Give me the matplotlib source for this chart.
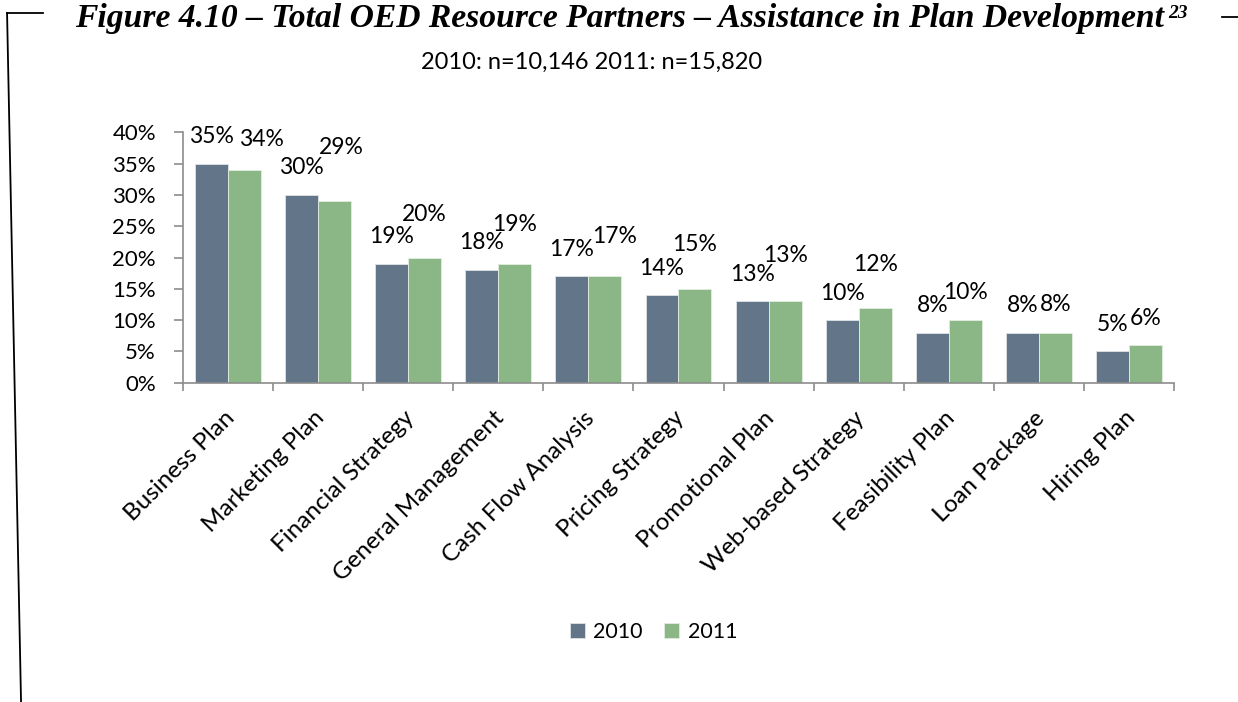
import numpy as np
import matplotlib.pyplot as plt
from matplotlib.lines import Line2D

plt.rcParams['font.family'] = ['Lato', 'DejaVu Sans']

# porcentaje de socios que ayudaron con cada tipo de plan
categorias = ['Business Plan', 'Marketing Plan', 'Financial Strategy',
              'General Management', 'Cash Flow Analysis', 'Pricing Strategy',
              'Promotional Plan', 'Web-based Strategy', 'Feasibility Plan',
              'Loan Package', 'Hiring Plan']
v2010 = [35, 30, 19, 18, 17, 14, 13, 10, 8, 8, 5]
v2011 = [34, 29, 20, 19, 17, 15, 13, 12, 10, 8, 6]
anios = ['2010', '2011']
titulo = 'Figure 4.10 \u2013 Total OED Resource Partners \u2013 Assistance in Plan Development'
subtitulo = '2010: n=10,146 2011: n=15,820'

# desplazamiento (pt) de las etiquetas de 2011 respecto al tope de la barra
desp2011 = [(12, 22), (5, 39), (0, 31), (0, 28), (7, 29), (0, 32),
            (0, 33), (0, 31), (0, 20), (0, 20), (0, 19)]

c2010 = '#637589'
c2011 = '#8bb686'
gris = '#8c8c8c'

fig = plt.figure(figsize=(12.38, 7.02), dpi=100)
ax = fig.add_axes([0.1478, 0.4548, 0.8005, 0.3567])

x = np.arange(len(categorias))
w = 0.366
b1 = ax.bar(x - w/2, v2010, w, color=c2010, edgecolor='#dfe3e8', linewidth=0.6, label=anios[0])
b2 = ax.bar(x + w/2, v2011, w, color=c2011, edgecolor='#e3eee1', linewidth=0.6, label=anios[1])

for i, r in enumerate(b1):
    ax.annotate(f'{v2010[i]}%', (r.get_x() + r.get_width()/2, r.get_height()),
                xytext=(0, 19.5), textcoords='offset points',
                ha='center', va='center', fontsize=16.5)
for i, r in enumerate(b2):
    dx, dy = desp2011[i]
    ax.annotate(f'{v2011[i]}%', (r.get_x() + r.get_width()/2, r.get_height()),
                xytext=(dx, dy), textcoords='offset points',
                ha='center', va='center', fontsize=16.5)

ax.set_xlim(-0.5, len(categorias) - 0.5)
ax.set_ylim(0, 40)
ax.set_yticks(np.arange(0, 41, 5))
ax.set_yticklabels([f'{t}%' for t in range(0, 41, 5)], fontsize=16)
ax.tick_params(axis='y', length=6.5, width=1.2, color=gris, pad=13)

# marcas del eje x entre categorias, etiquetas giradas aparte
ax.set_xticks(np.arange(-0.5, len(categorias), 1))
ax.set_xticklabels([])
ax.tick_params(axis='x', length=6, width=1.2, color=gris)
for i, c in enumerate(categorias):
    ax.annotate(c, (i, 0), xycoords=('data', 'axes fraction'),
                xytext=(2, -23), textcoords='offset points',
                rotation=45, ha='right', va='center', rotation_mode='anchor',
                fontsize=17.5)

for s in ['top', 'right']:
    ax.spines[s].set_visible(False)
for s in ['left', 'bottom']:
    ax.spines[s].set_color(gris)
    ax.spines[s].set_linewidth(1.2)

fig.legend(handles=[b1, b2], labels=anios, loc='center', bbox_to_anchor=(0.528, 0.1),
           ncol=2, frameon=False, fontsize=15.5, handlelength=0.7, handleheight=0.7,
           handletextpad=0.4, columnspacing=1.0)

fig.text(0.478, 0.911, subtitulo, ha='center', va='center', fontsize=17)

t = fig.text(0.0606, 0.962, titulo, ha='left', va='baseline', fontsize=24.2,
             family='Liberation Serif', weight='bold', style='italic')
fig.canvas.draw()
bb = t.get_window_extent()
fig.text(bb.x1 / fig.bbox.width + 0.003, 0.975, '23', ha='left', va='baseline', fontsize=14,
         family='Liberation Serif', weight='bold', style='italic')

# recuadro del documento
fig.add_artist(Line2D([0.0057, 0.0347], [0.9815, 0.9815], color='black', lw=1.3))
fig.add_artist(Line2D([0.0057, 0.017], [0.9815, 0.0], color='black', lw=1.3))
fig.add_artist(Line2D([0.987, 1.0], [0.976, 0.976], color='black', lw=1.3))

fig.savefig('out.png', dpi=100)
